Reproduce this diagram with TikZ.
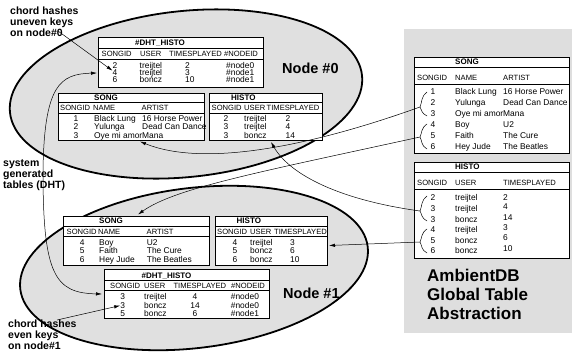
\documentclass[tikz,border=0pt]{standalone}
\usepackage{fontspec}
\setmainfont{Liberation Sans}
\usetikzlibrary{arrows.meta}

\tikzset{
  cell/.style={inner sep=0pt,anchor=west,text height=6pt,text depth=0pt,font=\fontsize{8.4}{9}\selectfont},
  num/.style={cell,anchor=center},
  head/.style={cell,text height=5.5pt,font=\fontsize{7.6}{9}\selectfont},
  title/.style={cell,text height=5.8pt,font=\bfseries\fontsize{8}{9}\selectfont},
  big/.style={cell,text height=10.4pt,font=\bfseries\fontsize{14.5}{16}\selectfont},
  lab/.style={inner sep=0pt,anchor=north west,align=left,font=\bfseries\fontsize{10.5}{11}\selectfont},
  tbl/.style={draw,fill=white,line width=0.8pt},
  link/.style={-{Latex[length=6pt,width=3.4pt]},line width=0.5pt},
}

\begin{document}
\begin{tikzpicture}[x=1pt,y=-1pt]
  \useasboundingbox (0,0) rectangle (572,351);
  \draw[line width=1.8pt,fill=black!12,rotate around={6:(186,94)}] (186,94) ellipse [x radius=177,y radius=83];
  \draw[line width=1.8pt,fill=black!12,rotate around={7:(194,268)}] (194,268) ellipse [x radius=175,y radius=80];
  \fill[black!13] (404,29) rectangle (572,333);

  \draw[tbl] (98,37) rectangle (263,87) (98,48) -- (263,48) (98,59) -- (263,59);
  \node[title] (d0t) at (135,43) {\#DHT\_HISTO};
  \node[head] (d0h1) at (101.5,54) {SONGID};
  \node[head] (d0h2) at (140,54) {USER};
  \node[head] (d0h3) at (169,54) {TIMESPLAYED};
  \node[head] (d0h4) at (224,54) {\#NODEID};
  \foreach \i/\y/\id/\usr/\tp/\nd in {1/65.5/2/treijtel/2/0,2/72.5/4/treijtel/3/1,3/79.5/6/boncz/10/1}{
    \node[num] (d0a\i) at (115,\y) {\id};
    \node[cell] (d0b\i) at (139.5,\y) {\usr};
    \node[cell] (d0c\i) at (185,\y) {\tp};
    \node[cell] (d0d\i) at (226,\y) {\#node\nd};
  }

  \draw[tbl] (58,93) rectangle (204,140.5) (58,102) -- (204,102) (58,113) -- (204,113);
  \node[title] (s0t) at (94,97.5) {SONG};
  \node[head] (s0h1) at (60,108) {SONGID};
  \node[head] (s0h2) at (93,108) {NAME};
  \node[head] (s0h3) at (141.5,108) {ARTIST};
  \foreach \i/\y/\nm/\art in {1/118/Black Lung/16 Horse Power,2/126.5/Yulunga/Dead Can Dance,3/135/Oye mi amor/Mana}{
    \node[num] (s0a\i) at (76,\y) {\i};
    \node[cell] (s0b\i) at (94,\y) {\nm};
    \node[cell] (s0c\i) at (142,\y) {\art};
  }

  \draw[tbl] (209,93) rectangle (322,140.5) (209,102) -- (322,102) (209,113) -- (322,113);
  \node[title] (h0t) at (231,97.5) {HISTO};
  \node[head] (h0h1) at (211.5,108) {SONGID};
  \node[head] (h0h2) at (244,108) {USER};
  \node[head] (h0h3) at (266.5,108) {TIMESPLAYED};
  \foreach \i/\y/\id/\usr/\tp in {1/118/2/treijtel/2,2/126.5/3/treijtel/4,3/135/3/boncz/14}{
    \node[num] (h0a\i) at (226,\y) {\id};
    \node[cell] (h0b\i) at (244,\y) {\usr};
    \node[cell] (h0c\i) at (285.5,\y) {\tp};
  }

  \draw[tbl] (63,216) rectangle (209,265) (63,226) -- (209,226) (63,236.5) -- (209,236.5);
  \node[title] (s1t) at (99,221) {SONG};
  \node[head] (s1h1) at (66.5,231.5) {SONGID};
  \node[head] (s1h2) at (98,231.5) {NAME};
  \node[head] (s1h3) at (146.5,231.5) {ARTIST};
  \foreach \i/\y/\id/\nm/\art in {1/242.5/4/Boy/U2,2/250.8/5/Faith/The Cure,3/259/6/Hey Jude/The Beatles}{
    \node[num] (s1a\i) at (82.3,\y) {\id};
    \node[cell] (s1b\i) at (99,\y) {\nm};
    \node[cell] (s1c\i) at (146.7,\y) {\art};
  }

  \draw[tbl] (215,216) rectangle (327,265) (215,226) -- (327,226) (215,236.5) -- (327,236.5);
  \node[title] (h1t) at (236.5,221) {HISTO};
  \node[head] (h1h1) at (217,231.5) {SONGID};
  \node[head] (h1h2) at (250,231.5) {USER};
  \node[head] (h1h3) at (274,231.5) {TIMESPLAYED};
  \foreach \i/\y/\id/\usr/\tp in {1/242.5/4/treijtel/3,2/250.8/5/boncz/6,3/259/6/boncz/10}{
    \node[num] (h1a\i) at (235,\y) {\id};
    \node[cell] (h1b\i) at (250,\y) {\usr};
    \node[cell] (h1c\i) at (290,\y) {\tp};
  }

  \draw[tbl] (104,269.5) rectangle (269.5,318.5) (104,280) -- (269.5,280) (104,290.7) -- (269.5,290.7);
  \node[title] (d1t) at (141.5,275.5) {\#DHT\_HISTO};
  \node[head] (d1h1) at (110,286) {SONGID};
  \node[head] (d1h2) at (144,286) {USER};
  \node[head] (d1h3) at (173.3,286) {TIMESPLAYED};
  \node[head] (d1h4) at (231,286) {\#NODEID};
  \foreach \i/\y/\id/\usr/\tp/\nd in {1/296.7/3/treijtel/4/0,2/305/3/boncz/14/0,3/313.3/5/boncz/6/1}{
    \node[num] (d1a\i) at (122.7,\y) {\id};
    \node[cell] (d1b\i) at (144,\y) {\usr};
    \node[num] (d1c\i) at (195,\y) {\tp};
    \node[cell] (d1d\i) at (230.7,\y) {\#node\nd};
  }

  \draw[tbl] (414,57) rectangle (569,153) (414,67) -- (569,67) (414,84) -- (569,84);
  \node[title] (sgt) at (455,62) {SONG};
  \node[head] (sgh1) at (417,78) {SONGID};
  \node[head] (sgh2) at (455,78) {NAME};
  \node[head] (sgh3) at (503,78) {ARTIST};
  \foreach \i/\y/\nm/\art in {1/91/Black Lung/16 Horse Power,2/102/Yulunga/Dead Can Dance,3/113/Oye mi amor/Mana,
                              4/124/Boy/U2,5/135/Faith/The Cure,6/146/Hey Jude/The Beatles}{
    \node[num] (sga\i) at (433,\y) {\i};
    \node[cell] (sgb\i) at (455,\y) {\nm};
    \node[cell] (sgc\i) at (503,\y) {\art};
  }

  \draw[tbl] (414,162) rectangle (569,258) (414,172) -- (569,172) (414,189) -- (569,189);
  \node[title] (hgt) at (455,167) {HISTO};
  \node[head] (hgh1) at (417,183) {SONGID};
  \node[head] (hgh2) at (455,183) {USER};
  \node[head] (hgh3) at (503,183) {TIMESPLAYED};
  \foreach \i/\y/\id/\usr/\ty/\tp in {1/197/2/treijtel/197/2,2/208/3/treijtel/206.5/4,3/219/3/boncz/217/14,
                                      4/229.5/4/treijtel/227/3,5/240/5/boncz/237/6,6/250/6/boncz/248/10}{
    \node[num] (hga\i) at (433,\y) {\id};
    \node[cell] (hgb\i) at (455,\y) {\usr};
    \node[cell] (hgc\i) at (503,\ty) {\tp};
  }

  \foreach \t/\m/\b/\n in {92/107/116/br1,124/137/149/br2,196/211/221/br3,229/242/253/br4}{
    \draw[line width=0.5pt] (427,\t) .. controls (421,\t+4) and (422,\m-4) .. (420,\m)
      .. controls (422,\m+3) and (421,\b-3) .. (427,\b);
    \coordinate (\n) at (420,\m);
  }

  \node[lab] (lab0) at (10,7) {chord hashes\\uneven keys\\on node\#0};
  \node[lab] (lab1) at (3,159) {system\\generated\\tables (DHT)};
  \node[lab] (lab2) at (8,320) {chord hashes\\even keys\\on node\#1};
  \node[big] (n0) at (282,68) {Node \#0};
  \node[big] (n1) at (283,293) {Node \#1};
  \node[lab,font=\bfseries\fontsize{17}{19}\selectfont] (amb) at (427,269) {AmbientDB\\Global Table\\Abstraction};

  \coordinate (k0) at (58,31);
  \coordinate (k1) at (43,172);
  \coordinate (k3) at (57,320);
  \coordinate (d0in) at (97,73);
  \coordinate (d1in) at (102,294);
  \coordinate (s0in) at (140,141.5);
  \coordinate (s1in) at (138,214.5);
  \coordinate (h0in) at (271,142);
  \coordinate (h1in) at (329,245.5);

  \draw[link] (k0) -- (d0a2);
  \draw[link] (k1) .. controls (44,85) and (60,74) .. (d0in);
  \draw[link] (k1) .. controls (43,275) and (55,293) .. (d1in);
  \draw[link] (k3) -- (d1a2);
  \draw[link] (br1) .. controls (300,150) and (200,166) .. (s0in);
  \draw[link] (br2) .. controls (260,172) and (175,188) .. (s1in);
  \draw[link] (br3) .. controls (340,200) and (290,175) .. (h0in);
  \draw[link] (br4) -- (h1in);
\end{tikzpicture}
\end{document}
